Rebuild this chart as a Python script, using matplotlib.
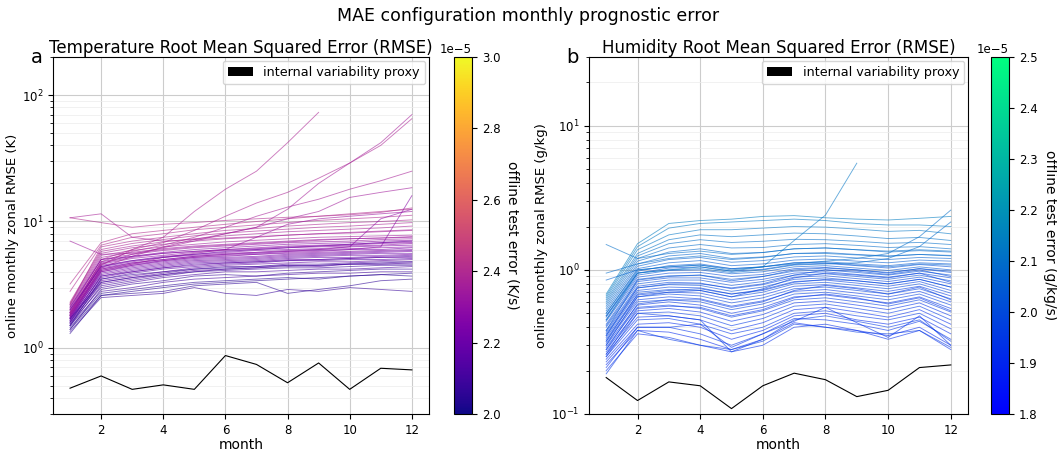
import numpy as np
import matplotlib
matplotlib.use("Agg")
import matplotlib.pyplot as plt
from matplotlib.patches import Patch
from matplotlib.colors import Normalize
from matplotlib.cm import ScalarMappable

nan = np.nan
months = list(range(1, 13))

# internal variability proxy
temp_proxy = [0.48, 0.60, 0.47, 0.51, 0.47, 0.87, 0.74, 0.53, 0.76, 0.47, 0.69, 0.67]
hum_proxy = [0.179, 0.124, 0.167, 0.157, 0.109, 0.157, 0.192, 0.173, 0.132, 0.146, 0.21, 0.219]

# temperature RMSE per run (K) and offline test error (1e-5 K/s)
temp_rmse = [
    [1.35, 2.5, 2.6, 2.7, 3.0, 2.7, 2.6, 2.9, 2.8, 3.0, 2.9, 2.8],
    [1.4, 2.6, 2.7, 2.8, 3.1, 3.2, 3.3, 2.7, 2.9, 3.1, 3.4, 3.5],
    [1.45, 2.7, 2.9, 3.1, 3.3, 3.4, 3.5, 3.6, 3.5, 3.7, 3.8, 3.7],
    [1.5, 2.8, 3.0, 3.3, 3.5, 3.6, 3.7, 3.8, 3.9, 3.9, 4.0, 4.0],
    [1.4, 2.9, 3.2, 3.4, 3.7, 3.8, 3.7, 3.9, 4.0, 4.1, 4.2, 4.2],
    [1.55, 3.0, 3.3, 3.6, 3.8, 4.0, 4.0, 4.1, 4.2, 4.2, 4.3, 4.4],
    [1.5, 3.1, 3.4, 3.7, 4.0, 4.1, 4.2, 4.3, 4.3, 4.4, 4.5, 4.5],
    [1.6, 3.2, 3.5, 3.8, 4.1, 4.2, 4.3, 4.5, 4.4, 4.6, 4.6, 4.7],
    [1.55, 3.3, 3.6, 3.9, 4.2, 4.4, 4.4, 4.6, 4.6, 4.7, 4.8, 4.8],
    [1.65, 3.4, 3.7, 4.0, 4.3, 4.5, 4.6, 4.7, 4.8, 4.8, 4.9, 5.0],
    [1.6, 3.5, 3.9, 4.2, 4.4, 4.6, 4.7, 4.9, 4.9, 5.0, 5.0, 5.1],
    [1.7, 3.6, 4.0, 4.3, 4.5, 4.7, 4.8, 5.0, 5.0, 5.1, 5.2, 5.2],
    [1.65, 3.7, 4.1, 4.4, 4.7, 4.8, 4.9, 5.1, 5.2, 5.2, 5.3, 5.4],
    [1.75, 3.8, 4.2, 4.5, 4.8, 4.9, 5.0, 5.2, 5.3, 5.4, 5.4, 5.5],
    [1.7, 3.9, 4.3, 4.6, 4.9, 5.0, 5.1, 5.3, 5.4, 5.5, 5.6, 5.6],
    [1.8, 4.0, 4.4, 4.7, 5.0, 5.1, 5.2, 5.4, 5.5, 5.6, 5.7, 5.8],
    [1.75, 4.1, 4.5, 4.8, 5.1, 5.2, 5.3, 5.5, 5.6, 5.7, 5.8, 5.9],
    [1.85, 4.2, 4.6, 4.9, 5.2, 5.3, 5.5, 5.6, 5.7, 5.8, 5.9, 6.0],
    [1.8, 4.3, 4.7, 5.0, 5.3, 5.5, 5.6, 5.8, 5.9, 6.0, 6.0, 6.2],
    [1.9, 4.4, 4.8, 5.2, 5.4, 5.6, 5.7, 5.9, 6.0, 6.1, 6.2, 6.3],
    [1.85, 4.5, 4.9, 5.3, 5.5, 5.7, 5.9, 6.0, 6.1, 6.3, 6.4, 6.5],
    [1.95, 4.6, 5.1, 5.4, 5.7, 5.9, 6.0, 6.2, 6.3, 6.4, 6.5, 6.7],
    [2.0, 4.7, 5.2, 5.6, 5.8, 6.0, 6.2, 6.4, 6.5, 6.6, 6.8, 6.9],
    [1.9, 4.8, 5.3, 5.7, 6.0, 6.2, 6.4, 6.6, 6.7, 6.8, 7.0, 7.1],
    [2.05, 5.0, 5.5, 5.9, 6.2, 6.4, 6.6, 6.8, 6.9, 7.0, 7.2, 7.3],
    [2.1, 5.2, 5.7, 6.1, 6.4, 6.6, 6.8, 7.0, 7.2, 7.3, 7.4, 7.5],
    [2.15, 5.4, 5.9, 6.3, 6.6, 6.9, 7.1, 7.3, 7.5, 7.6, 7.7, 7.8],
    [2.2, 5.6, 6.2, 6.6, 7.0, 7.3, 7.5, 7.8, 8.0, 8.1, 8.3, 8.5],
    [2.25, 5.8, 6.4, 6.9, 7.3, 7.7, 8.0, 8.3, 8.5, 8.7, 8.9, 9.2],
    [2.3, 6.0, 6.7, 7.2, 7.7, 8.1, 8.4, 8.7, 9.0, 9.2, 9.5, 9.8],
    [2.2, 6.3, 7.0, 7.5, 8.0, 8.5, 8.8, 9.2, 9.5, 9.8, 10.0, 10.3],
    [2.8, 6.5, 7.5, 8.0, 8.6, 9.0, 9.4, 9.8, 10.2, 10.5, 10.8, 11.2],
    [3.2, 6.8, 8.0, 8.5, 9.0, 9.5, 10.0, 10.5, 11.0, 11.5, 12.0, 12.5],
    [10.7, 11.5, 7.5, 7.0, 7.2, 7.4, 7.6, 7.8, 8.0, 8.2, 8.4, 8.6],
    [10.7, 9.8, 9.0, 9.5, 9.8, 10.2, 10.5, 10.8, 11.0, 11.3, 11.8, 12.8],
    [7.0, 5.5, 5.6, 6.0, 6.3, 6.5, 6.7, 6.9, 7.1, 7.3, 7.4, 7.6],
    [1.9, 4.5, 6.0, 7.5, 12.0, 18.0, 25.0, 42.0, 73.0, nan, nan, nan],
    [1.8, 4.3, 5.3, 6.3, 7.2, 8.0, 9.0, 12.5, 20.0, 29.0, 42.0, 70.0],
    [2.0, 5.0, 6.0, 6.8, 8.5, 11.0, 14.0, 17.0, 22.0, 29.0, 40.0, 65.0],
    [1.9, 4.8, 5.8, 6.5, 7.5, 9.0, 11.0, 13.0, 15.0, 18.0, 21.0, 25.0],
    [1.85, 4.6, 5.5, 6.2, 7.0, 8.0, 9.0, 10.5, 12.0, 15.5, 17.0, 18.5],
    [1.7, 4.0, 4.5, 4.9, 5.2, 5.4, 5.5, 5.7, 5.8, 6.0, 6.3, 16.0],
    [1.75, 4.2, 4.7, 5.0, 5.3, 5.5, 5.7, 5.8, 6.0, 6.3, 10.5, 12.5],
    [1.8, 4.1, 4.6, 5.2, 5.6, 6.0, 7.5, 9.5, 10.5, 11.0, 11.5, 12.0],
    [2.0, 4.4, 4.9, 5.2, 5.5, 5.8, 6.0, 6.2, 6.4, 6.6, 6.8, 7.0],
    [1.5, 3.5, 3.8, 4.0, 4.2, 4.3, 4.4, 4.5, 4.5, 4.6, 4.6, 4.6],
    [1.6, 3.7, 4.0, 4.3, 4.6, 4.7, 4.8, 4.9, 5.0, 5.1, 5.2, 5.3],
    [1.7, 3.3, 3.6, 3.8, 4.0, 4.2, 4.3, 4.4, 4.5, 4.6, 4.7, 4.8],
    [1.3, 2.6, 2.8, 3.0, 3.2, 3.3, 3.4, 3.5, 3.6, 3.7, 3.8, 3.9],
    [2.1, 5.0, 5.3, 5.6, 5.8, 6.0, 6.1, 6.3, 6.4, 6.5, 6.7, 6.8],
]
temp_offline = [2.08, 2.06, 2.05, 2.1, 2.07, 2.12, 2.09, 2.15, 2.11, 2.18,
                2.14, 2.2, 2.17, 2.22, 2.19, 2.24, 2.21, 2.26, 2.23, 2.27,
                2.25, 2.29, 2.3, 2.28, 2.32, 2.33, 2.35, 2.36, 2.37, 2.38,
                2.39, 2.4, 2.41, 2.37, 2.4, 2.34, 2.38, 2.36, 2.38, 2.37,
                2.35, 2.28, 2.3, 2.33, 2.2, 2.08, 2.15, 2.1, 2.05, 2.26]

# humidity RMSE per run (g/kg) and offline test error (1e-5 g/kg/s)
hum_rmse = [
    [0.20, 0.36, 0.34, 0.30, 0.27, 0.30, 0.40, 0.42, 0.38, 0.33, 0.38, 0.28],
    [0.22, 0.38, 0.37, 0.33, 0.28, 0.33, 0.43, 0.40, 0.38, 0.35, 0.40, 0.30],
    [0.23, 0.40, 0.40, 0.36, 0.30, 0.36, 0.46, 0.45, 0.42, 0.38, 0.44, 0.33],
    [0.24, 0.42, 0.43, 0.40, 0.33, 0.38, 0.48, 0.50, 0.45, 0.42, 0.47, 0.36],
    [0.25, 0.45, 0.46, 0.42, 0.36, 0.40, 0.50, 0.52, 0.48, 0.45, 0.50, 0.39],
    [0.26, 0.47, 0.48, 0.45, 0.38, 0.43, 0.53, 0.55, 0.51, 0.47, 0.53, 0.42],
    [0.27, 0.50, 0.51, 0.48, 0.41, 0.46, 0.56, 0.58, 0.54, 0.50, 0.56, 0.45],
    [0.28, 0.52, 0.54, 0.51, 0.44, 0.49, 0.59, 0.61, 0.57, 0.53, 0.59, 0.48],
    [0.29, 0.55, 0.57, 0.54, 0.47, 0.52, 0.62, 0.64, 0.60, 0.56, 0.62, 0.51],
    [0.30, 0.57, 0.60, 0.57, 0.50, 0.55, 0.65, 0.67, 0.63, 0.59, 0.65, 0.54],
    [0.31, 0.60, 0.62, 0.60, 0.53, 0.58, 0.68, 0.70, 0.66, 0.62, 0.68, 0.57],
    [0.32, 0.62, 0.65, 0.63, 0.56, 0.61, 0.71, 0.73, 0.69, 0.65, 0.71, 0.60],
    [0.33, 0.65, 0.68, 0.66, 0.59, 0.64, 0.74, 0.76, 0.72, 0.68, 0.74, 0.63],
    [0.34, 0.67, 0.70, 0.69, 0.62, 0.67, 0.77, 0.79, 0.75, 0.71, 0.77, 0.66],
    [0.35, 0.70, 0.73, 0.72, 0.65, 0.70, 0.80, 0.82, 0.78, 0.74, 0.80, 0.69],
    [0.36, 0.72, 0.76, 0.75, 0.68, 0.73, 0.83, 0.85, 0.81, 0.77, 0.83, 0.72],
    [0.37, 0.75, 0.79, 0.78, 0.71, 0.76, 0.86, 0.88, 0.84, 0.80, 0.86, 0.76],
    [0.38, 0.77, 0.82, 0.81, 0.74, 0.79, 0.89, 0.91, 0.87, 0.83, 0.89, 0.80],
    [0.40, 0.80, 0.85, 0.85, 0.78, 0.83, 0.92, 0.94, 0.90, 0.86, 0.92, 0.84],
    [0.41, 0.83, 0.88, 0.88, 0.82, 0.86, 0.95, 0.97, 0.93, 0.89, 0.95, 0.88],
    [0.42, 0.86, 0.91, 0.92, 0.86, 0.90, 0.98, 1.00, 0.96, 0.92, 0.98, 0.92],
    [0.44, 0.89, 0.95, 0.96, 0.90, 0.93, 1.02, 1.04, 1.00, 0.96, 1.02, 0.96],
    [0.45, 0.92, 0.99, 1.00, 0.94, 0.97, 1.05, 1.07, 1.03, 0.99, 1.05, 1.00],
    [0.47, 0.95, 1.03, 1.05, 0.98, 1.01, 1.09, 1.11, 1.07, 1.03, 1.09, 1.05],
    [0.48, 0.98, 1.07, 1.10, 1.02, 1.05, 1.12, 1.14, 1.10, 1.07, 1.12, 1.10],
    [0.50, 1.02, 1.12, 1.16, 1.07, 1.10, 1.17, 1.19, 1.15, 1.12, 1.17, 1.15],
    [0.52, 1.06, 1.18, 1.22, 1.13, 1.16, 1.23, 1.25, 1.21, 1.18, 1.22, 1.20],
    [0.54, 1.10, 1.25, 1.30, 1.20, 1.23, 1.30, 1.32, 1.28, 1.25, 1.28, 1.26],
    [0.56, 1.15, 1.33, 1.40, 1.30, 1.32, 1.40, 1.42, 1.38, 1.33, 1.36, 1.33],
    [0.58, 1.20, 1.42, 1.50, 1.42, 1.43, 1.50, 1.52, 1.48, 1.43, 1.45, 1.40],
    [0.60, 1.25, 1.52, 1.62, 1.55, 1.58, 1.63, 1.62, 1.58, 1.53, 1.55, 1.50],
    [0.62, 1.30, 1.62, 1.75, 1.70, 1.75, 1.80, 1.78, 1.72, 1.65, 1.68, 1.60],
    [0.64, 1.38, 1.75, 1.90, 1.90, 1.95, 2.00, 1.98, 1.92, 1.85, 1.88, 1.78],
    [0.66, 1.45, 1.95, 2.10, 2.15, 2.20, 2.25, 2.20, 2.10, 2.05, 2.05, 2.00],
    [0.68, 1.52, 2.10, 2.20, 2.25, 2.35, 2.38, 2.30, 2.25, 2.22, 2.28, 2.35],
    [1.50, 1.20, 1.30, 1.35, 1.28, 1.32, 1.40, 1.42, 1.38, 1.35, 1.38, 1.35],
    [0.95, 1.10, 1.20, 1.25, 1.18, 1.22, 1.30, 1.30, 1.27, 1.24, 1.28, 1.25],
    [0.85, 1.00, 1.05, 1.08, 1.02, 1.05, 1.12, 1.12, 1.08, 1.05, 1.10, 1.08],
    [0.45, 0.95, 1.00, 1.05, 0.98, 1.05, 1.60, 2.40, 5.50, nan, nan, nan],
    [0.50, 1.00, 1.05, 1.08, 1.00, 1.05, 1.10, 1.15, 1.20, 1.30, 1.70, 2.60],
    [0.48, 0.95, 1.00, 1.02, 0.96, 1.00, 1.08, 1.10, 1.12, 1.20, 1.45, 2.15],
    [0.25, 0.50, 0.48, 0.45, 0.27, 0.33, 0.45, 0.48, 0.44, 0.40, 0.45, 0.32],
    [0.21, 0.40, 0.40, 0.42, 0.29, 0.36, 0.44, 0.55, 0.43, 0.34, 0.48, 0.30],
    [0.19, 0.38, 0.33, 0.30, 0.28, 0.32, 0.42, 0.40, 0.37, 0.36, 0.38, 0.29],
    [0.30, 0.65, 0.70, 0.72, 0.65, 0.74, 0.88, 0.95, 0.92, 0.88, 0.95, 0.82],
    [0.35, 0.75, 0.80, 0.80, 0.75, 0.80, 0.92, 1.00, 0.98, 0.93, 1.00, 0.90],
    [0.28, 0.58, 0.62, 0.62, 0.55, 0.60, 0.72, 0.78, 0.74, 0.68, 0.76, 0.62],
    [0.32, 0.68, 0.72, 0.74, 0.68, 0.72, 0.82, 0.86, 0.84, 0.80, 0.86, 0.76],
    [0.26, 0.54, 0.56, 0.55, 0.48, 0.53, 0.64, 0.68, 0.64, 0.58, 0.64, 0.52],
    [0.38, 0.85, 0.90, 0.92, 0.84, 0.90, 1.00, 1.03, 1.00, 0.95, 1.02, 0.98],
]
hum_offline = [1.92, 1.9, 1.93, 1.91, 1.94, 1.92, 1.95, 1.93, 1.96, 1.94,
               1.97, 1.95, 1.98, 1.96, 1.99, 1.97, 2.0, 1.98, 2.01, 1.99,
               2.02, 2.0, 2.03, 2.01, 2.04, 2.05, 2.06, 2.07, 2.08, 2.09,
               2.1, 2.11, 2.12, 2.13, 2.14, 2.1, 2.09, 2.07, 2.12, 2.1,
               2.09, 1.95, 1.93, 1.95, 1.97, 1.99, 1.96, 1.98, 1.94, 2.02]

fig = plt.figure(figsize=(10.57, 4.53), dpi=100)
fig.suptitle("MAE configuration monthly prognostic error", fontsize=12.5, y=0.985)

panels = [
    dict(pos=[0.0501, 0.0861, 0.3557, 0.788], cpos=[0.4295, 0.0861, 0.0170, 0.788],
         data=temp_rmse, off=temp_offline, proxy=temp_proxy, cmap="plasma",
         vmin=2.0e-5, vmax=3.0e-5, ylim=(0.3, 200), letter="a",
         title="Temperature Root Mean Squared Error (RMSE)",
         ylabel="online monthly zonal RMSE (K)", clabel="offline test error (K/s)"),
    dict(pos=[0.5572, 0.0861, 0.3586, 0.788], cpos=[0.9376, 0.0861, 0.0170, 0.788],
         data=hum_rmse, off=hum_offline, proxy=hum_proxy, cmap="winter",
         vmin=1.8e-5, vmax=2.5e-5, ylim=(0.1, 30), letter="b",
         title="Humidity Root Mean Squared Error (RMSE)",
         ylabel="online monthly zonal RMSE (g/kg)", clabel="offline test error (g/kg/s)"),
]

for p in panels:
    ax = fig.add_axes(p["pos"])
    cmap = plt.get_cmap(p["cmap"])
    norm = Normalize(vmin=p["vmin"], vmax=p["vmax"])
    for vals, off in zip(p["data"], p["off"]):
        ax.plot(months, vals, color=cmap(norm(off * 1e-5)), lw=0.65, alpha=0.6)
    ax.plot(months, p["proxy"], color="black", lw=0.8)
    ax.set_yscale("log")
    ax.set_ylim(*p["ylim"])
    ax.set_xticks([2, 4, 6, 8, 10, 12])
    ax.grid(True, which="major", color="#cccccc", lw=0.8)
    ax.grid(True, which="minor", axis="y", color="#ececec", lw=0.5)
    ax.set_axisbelow(True)
    ax.set_xlabel("month", fontsize=10, labelpad=1)
    ax.set_ylabel(p["ylabel"], fontsize=9.5, labelpad=2)
    ax.set_title(p["title"], fontsize=12, pad=3)
    ax.tick_params(labelsize=8.5)
    ax.text(-0.027, 1.0, p["letter"], transform=ax.transAxes, fontsize=14,
            ha="right", va="center")
    ax.legend(handles=[Patch(facecolor="black", label="internal variability proxy")],
              loc="upper right", fontsize=9.2, borderaxespad=0.3)

    cax = fig.add_axes(p["cpos"])
    cb = fig.colorbar(ScalarMappable(norm=norm, cmap=cmap), cax=cax)
    cb.set_label(p["clabel"], rotation=270, labelpad=14, fontsize=10)
    cb.ax.tick_params(labelsize=8.5)
    cb.ax.yaxis.get_offset_text().set_fontsize(8.5)

fig.savefig("out.png", dpi=100)
